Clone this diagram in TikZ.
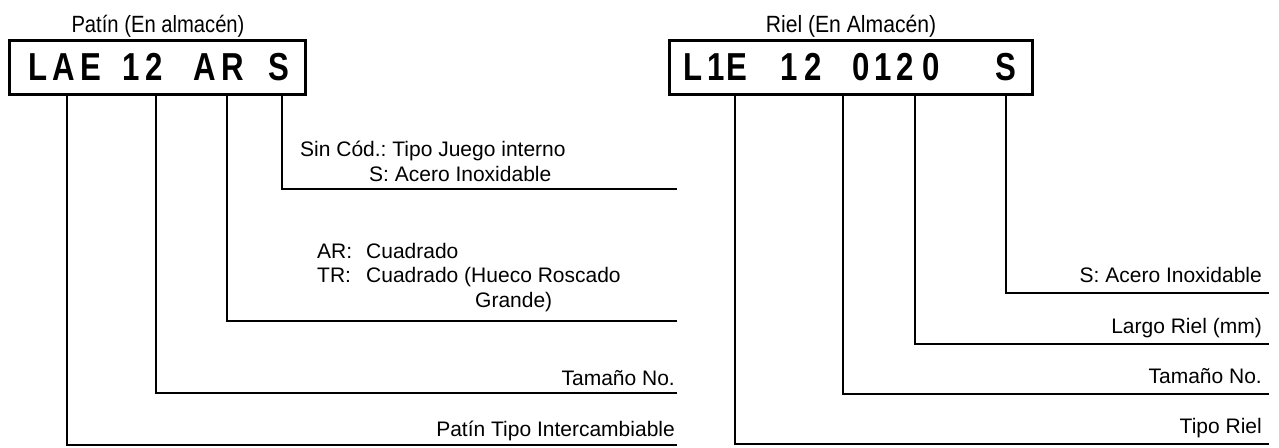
\documentclass[tikz,border=0pt]{standalone}
\usepackage{fontspec}
\setmainfont{Liberation Sans}
\newfontfamily\codefont[FakeStretch=0.8]{Liberation Sans}
\newfontfamily\titlefont[FakeStretch=0.86]{Liberation Sans}
\newfontfamily\titlefontb[FakeStretch=0.9]{Liberation Sans}
\newcommand{\cz}[1]{\makebox[0pt]{#1}}
\frenchspacing
\begin{document}
\begin{tikzpicture}[x=1pt,y=-1pt,
  codebox/.style={draw, line width=2.6pt, inner sep=0pt, minimum height=54pt, anchor=north west,
    font=\codefont\bfseries\fontsize{39}{39}\selectfont},
  ttl/.style={inner sep=0pt, anchor=base},
  lbl/.style={inner sep=0pt, anchor=base east, font=\fontsize{21}{24}\selectfont},
  lblblock/.style={inner sep=0pt, anchor=base west, align=left, font=\fontsize{21}{24.5}\selectfont},
  conn/.style={line width=2.5pt}]
\useasboundingbox (0,0) rectangle (1279,447);

% titles
\node[ttl, font=\titlefont\fontsize{23.5}{24}\selectfont] (ltitle) at (158,32) {Patín (En almacén)};
\node[ttl, font=\titlefontb\fontsize{23.5}{24}\selectfont] (rtitle) at (851,32) {Riel (En Almacén)};

% code boxes
\node[codebox, minimum width=296pt] (lbox) at (8,39)
 {\hbox to 296pt{\hspace*{28.5pt}\cz{L}\hspace*{26pt}\cz{A}\hspace*{27.5pt}\cz{E}\hspace*{40pt}\cz{1}\hspace*{23pt}\cz{2}\hspace*{50.5pt}\cz{A}\hspace*{28.5pt}\cz{R}\hspace*{46pt}\cz{S}\hfil}};
\node[codebox, minimum width=363pt] (rbox) at (668,39)
 {\hbox to 363pt{\hspace*{23.5pt}\cz{L}\hspace*{23.5pt}\cz{1}\hspace*{20.3pt}\cz{E}\hspace*{53pt}\cz{1}\hspace*{24pt}\cz{2}\hspace*{47.3pt}\cz{0}\hspace*{22.2pt}\cz{1}\hspace*{21.7pt}\cz{2}\hspace*{26.6pt}\cz{0}\hspace*{74.4pt}\cz{S}\hfil}};

% line end coordinates
\coordinate (lS) at (677,189);
\coordinate (lAR) at (677,321);
\coordinate (lT) at (677,393);
\coordinate (lP) at (677,445);
\coordinate (rS) at (1269,293);
\coordinate (rL) at (1269,344);
\coordinate (rT) at (1269,394);
\coordinate (rR) at (1269,444);

% left connectors
\draw[conn] ([xshift=274pt]lbox.south west) |- (lS);
\draw[conn] ([xshift=219pt]lbox.south west) |- (lAR);
\draw[conn] ([xshift=148pt]lbox.south west) |- (lT);
\draw[conn] ([xshift=59pt]lbox.south west) |- (lP);

% right connectors
\draw[conn] ([xshift=338pt]rbox.south west) |- (rS);
\draw[conn] ([xshift=247pt]rbox.south west) |- (rL);
\draw[conn] ([xshift=175pt]rbox.south west) |- (rT);
\draw[conn] ([xshift=67pt]rbox.south west) |- (rR);

% left labels (base anchor = last line)
\node[lblblock] (lSlbl) at (300,181) {Sin Cód.: Tipo Juego interno\\\hspace*{69pt}S: Acero Inoxidable};
\node[lblblock] (lARlbl) at (317,307) {\makebox[49pt][l]{AR:}Cuadrado\\\makebox[49pt][l]{TR:}Cuadrado (Hueco Roscado\\\hspace*{158pt}Grande)};
\node[lbl] (lTlbl) at (675,385) {Tamaño No.};
\node[lbl] (lPlbl) at (675,436) {Patín Tipo Intercambiable};

% right labels
\node[lbl] (rSlbl) at (1262,282) {S: Acero Inoxidable};
\node[lbl] (rLlbl) at (1262,333) {Largo Riel (mm)};
\node[lbl] (rTlbl) at (1262,383) {Tamaño No.};
\node[lbl] (rRlbl) at (1262,433) {Tipo Riel};
\end{tikzpicture}
\end{document}
